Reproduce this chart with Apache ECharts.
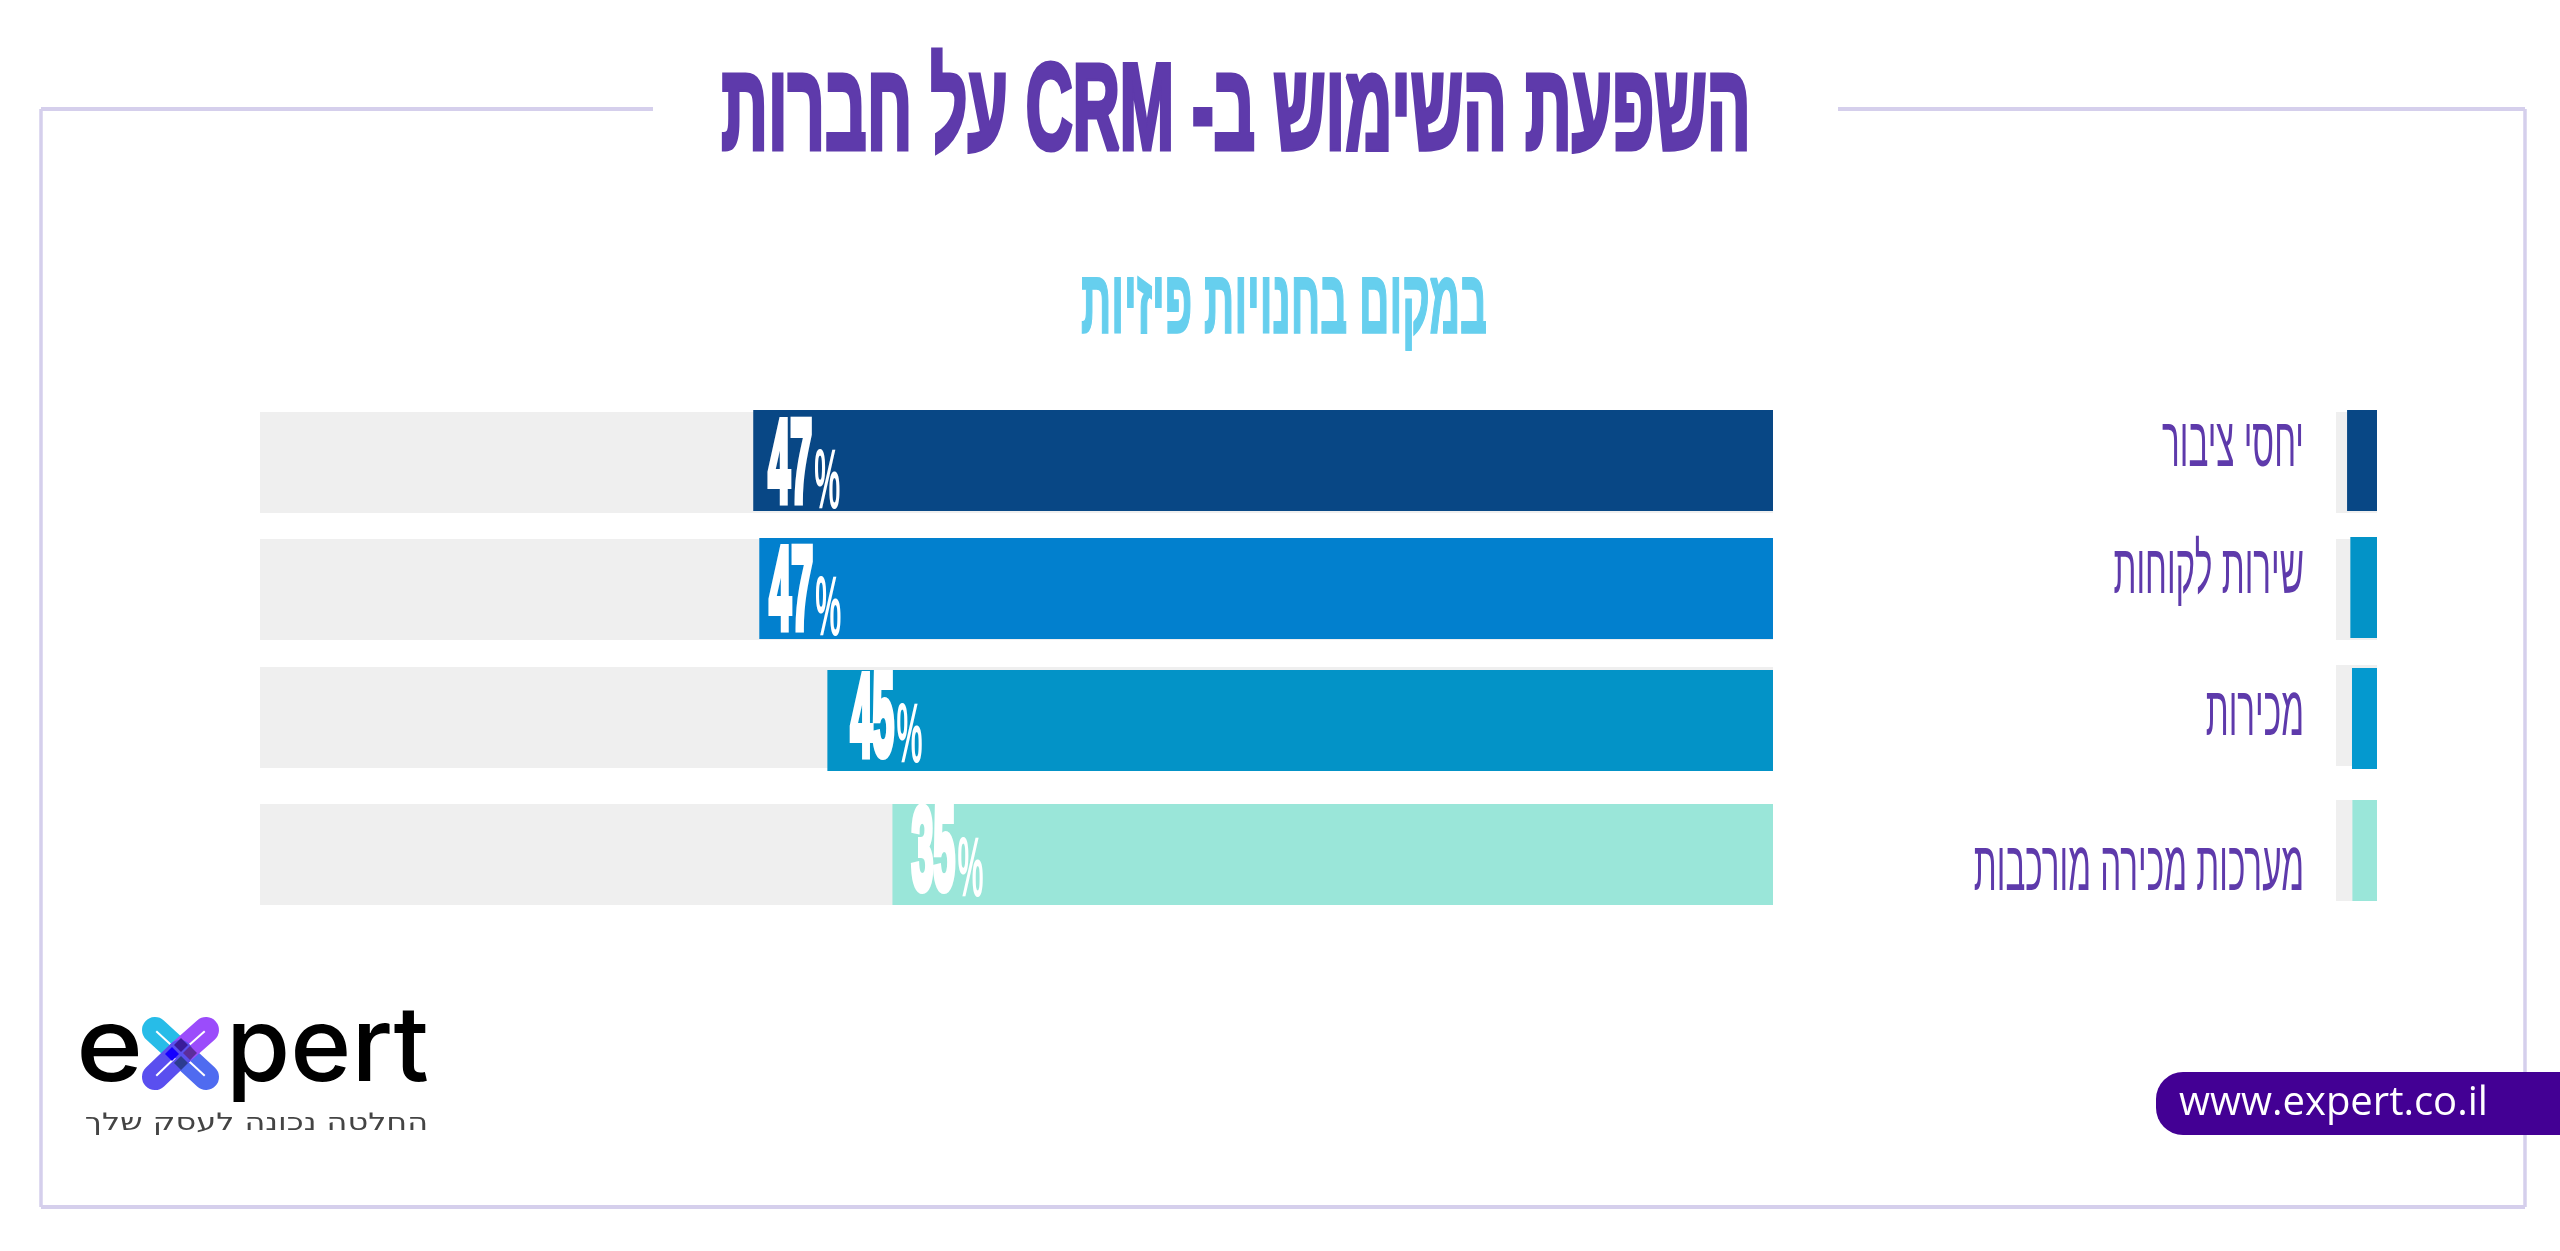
<!DOCTYPE html>
<html>
<head>
<meta charset="utf-8">
<title>CRM</title>
<script src="https://cdn.jsdelivr.net/npm/echarts@6/dist/echarts.min.js"></script>
<style>
html, body { margin: 0; padding: 0; background: #fff; }
#main { width: 2560px; height: 1251px; }
</style>
</head>
<body>
<div id="main" dir="rtl"></div>
<script>
// data
var categories = ['יחסי ציבור', 'שירות לקוחות', 'מכירות', 'מערכות מכירה מורכבות'];
var percentValues = [47, 47, 45, 35];
// painted length of the bars, in % of the grey track (the source does not draw them to scale)
var barLengths = [67.4, 67.0, 62.5, 58.2];
var swatchLengths = [73, 65, 61, 60];
var trackLength = 100;
var titleText = 'השפעת השימוש ב- CRM על חברות';
var subtitleText = 'במקום בחנויות פיזיות';
var taglineText = 'החלטה נכונה לעסק שלך';
var urlText = 'www.expert.co.il';

// colours
var barColors = ['#084785', '#0280CE', '#0393C7', '#9AE6D9'];
var swatchColors = ['#084785', '#0393C7', '#0499CF', '#9AE6D9'];
var trackColor = '#EFEFEF';
var purple = '#5E3AAB';

// layout, one entry per row
var trackTops = [412, 539, 667, 804];
var barTops = [410, 538, 670, 804];
var swatchTrackTops = [412, 539, 665, 800];
var swatchTops = [410, 537, 668, 800];
var catCenters = [447, 574, 716, 871];
var labelOffsets = [15, 10, 23, 19];
var labelShift = [8.5, 7.5, 3, 3];

var grids = [], xAxes = [], yAxes = [], series = [];

function addBar(left, top, width, height, value, color, label, offset, shift) {
	var idx = grids.length;
	grids.push({ left: left, top: top, width: width, height: height, containLabel: false });
	xAxes.push({ type: 'value', gridIndex: idx, inverse: true, min: 0, max: trackLength, show: false });
	yAxes.push({ type: 'category', gridIndex: idx, data: ['row'], show: false });
	series.push({
		type: 'bar', xAxisIndex: idx, yAxisIndex: idx, data: [value], barWidth: '100%', silent: true,
		itemStyle: { color: color }
	});
	if(label != null) {
		series.push({
			type: 'custom', xAxisIndex: idx, yAxisIndex: idx, data: [[value, 0]], silent: true, z: 5,
			renderItem: function(params, api) { //the numbers are squeezed like the source font
				var p = api.coord([api.value(0), api.value(1)]);
				return {
					type: 'group',
					children: [{
						type: 'text', x: p[0] + offset, y: p[1] + shift, scaleX: 0.34,
						style: { text: String(label), fill: '#fff', stroke: '#fff', lineWidth: 8, align: 'left', verticalAlign: 'middle',
							fontFamily: 'Liberation Sans', fontWeight: 'bold', fontSize: 116 }
					}, {
						type: 'text', x: p[0] + offset + 46, y: p[1] + shift + 15, scaleX: 0.34,
						style: { text: '%', fill: '#fff', align: 'left', verticalAlign: 'middle',
							fontFamily: 'Liberation Sans', fontWeight: 'bold', fontSize: 86 }
					}]
				};
			}
		});
	}
}

for(var i = 0; i < categories.length; i++) {
	addBar(260, trackTops[i], 1513, 101, trackLength, trackColor);
	addBar(260, barTops[i], 1513, 101, barLengths[i], barColors[i], percentValues[i], labelOffsets[i], labelShift[i]);
	addBar(2336, swatchTrackTops[i], 41, 101, trackLength, trackColor);
	addBar(2336, swatchTops[i], 41, 101, swatchLengths[i], swatchColors[i]);
}

var graphics = [];

function frameLine(points, w) {
	graphics.push({ type: 'polyline', silent: true, shape: { points: points }, style: { stroke: '#D5CFEC', lineWidth: w, fill: null } });
}
frameLine([[653, 109], [41, 109]], 4);
frameLine([[41, 109], [41, 1207]], 3.5);
frameLine([[41, 1207], [2525, 1207]], 4);
frameLine([[2525, 1207], [2525, 109]], 3.5);
frameLine([[2525, 109], [1838, 109]], 4);

function addText(text, x, y, size, scaleX, color, align, family, weight, stroke) {
	graphics.push({
		type: 'text', silent: true, x: x, y: y, scaleX: scaleX, z: 10,
		style: { text: text, fill: color, stroke: stroke ? color : null, lineWidth: stroke || 0, align: align, verticalAlign: 'middle',
			fontFamily: family, fontWeight: weight, fontSize: size }
	});
}

addText(titleText, 1236, 115, 122, 0.533, purple, 'center', 'Liberation Sans', 'bold', 5);
addText(subtitleText, 1284, 308, 90, 0.469, '#66CFEE', 'center', 'Liberation Sans', 'bold', 2);
for(var j = 0; j < categories.length; j++) {
	addText(categories[j], 2304, catCenters[j], 70, 0.475, purple, 'right', 'Liberation Sans', 'normal');
}

// logo
function logoArm(a, b, color) {
	graphics.push({ type: 'line', silent: true, shape: { x1: a[0], y1: a[1], x2: b[0], y2: b[1] }, style: { stroke: color, lineWidth: 26, lineCap: 'round' } });
	graphics.push({ type: 'line', silent: true, shape: { x1: a[0] + (b[0] - a[0]) * 0.05, y1: a[1] + (b[1] - a[1]) * 0.05, x2: a[0] + (b[0] - a[0]) * 0.8, y2: a[1] + (b[1] - a[1]) * 0.8 }, style: { stroke: '#fff', lineWidth: 2 } });
}
function logoDot(x, y, color) {
	graphics.push({ type: 'polygon', silent: true, shape: { points: [[x, y - 7], [x + 7, y], [x, y + 7], [x - 7, y]] }, style: { fill: color } });
}
logoArm([155, 1030], [180, 1053], '#27BCE8');
logoArm([206, 1077], [180, 1053], '#4F6BF0');
logoArm([206, 1030], [180, 1053], '#9B4CFB');
logoArm([155, 1077], [180, 1053], '#5A4FEF');
logoDot(172, 1054, '#1500FF');
logoDot(181, 1045, '#3A1C9A');
logoDot(190, 1053, '#5C2D9B');
logoDot(181, 1063, '#2C3C90');
addText('e', 76, 1050, 104, 1.1, '#000', 'left', 'Inter', 500);
addText('pert', 226, 1050, 104, 1, '#000', 'left', 'Inter', 500);
addText(taglineText, 428, 1124, 24, 1.33, '#444', 'right', 'DejaVu Sans', 'normal');

// url pill
graphics.push({ type: 'rect', silent: true, shape: { x: 2156, y: 1072, width: 430, height: 63, r: 27 }, style: { fill: '#430094' } });
addText(urlText, 2179, 1104, 40, 1, '#fff', 'left', 'Open Sans', 'normal');

var mychart = echarts.init(document.getElementById('main'));
mychart.setOption({
	animation: false,
	backgroundColor: '#fff',
	grid: grids,
	xAxis: xAxes,
	yAxis: yAxes,
	series: series,
	graphic: { elements: graphics }
});
</script>
</body>
</html>
